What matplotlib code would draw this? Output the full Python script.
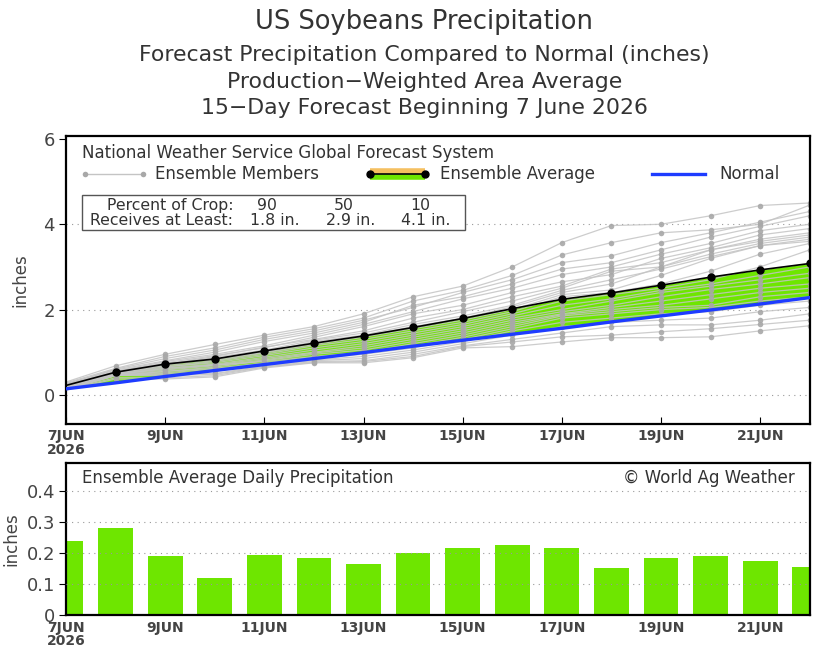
import matplotlib
matplotlib.use("Agg")
import matplotlib.pyplot as plt
from matplotlib.lines import Line2D
from matplotlib.patches import Rectangle
import numpy as np

# ---------------- data ----------------
days = list(range(16))  # 0 = 7 Jun 2026 ... 15 = 22 Jun 2026
tick_days = [0, 2, 4, 6, 8, 10, 12, 14]
tick_labels = ["7JUN\n2026", "9JUN", "11JUN", "13JUN", "15JUN", "17JUN", "19JUN", "21JUN"]

ens_avg = [0.22, 0.53, 0.72, 0.84, 1.03, 1.21, 1.38, 1.58, 1.79, 2.02, 2.24, 2.39, 2.57, 2.76, 2.93, 3.08]
normal = [0.14, 0.28, 0.43, 0.57, 0.71, 0.85, 0.99, 1.14, 1.28, 1.42, 1.56, 1.71, 1.85, 1.99, 2.13, 2.28]
daily = [0.24, 0.28, 0.19, 0.12, 0.195, 0.185, 0.165, 0.20, 0.215, 0.225, 0.215, 0.15, 0.185, 0.19, 0.175, 0.155]

m01 = [0.30, 0.68, 0.95, 1.18, 1.40, 1.60, 1.90, 2.30, 2.55, 3.00, 3.57, 3.97, 4.00, 4.20, 4.44, 4.50]
m02 = [0.28, 0.62, 0.90, 1.10, 1.35, 1.55, 1.80, 2.20, 2.45, 2.80, 3.28, 3.57, 3.80, 3.87, 4.00, 4.45]
m03 = [0.25, 0.60, 0.85, 1.05, 1.30, 1.50, 1.75, 2.05, 2.40, 2.70, 3.10, 3.26, 3.57, 3.80, 4.05, 4.30]
m04 = [0.26, 0.58, 0.80, 1.00, 1.25, 1.45, 1.70, 2.10, 2.30, 2.60, 2.95, 3.10, 3.40, 3.70, 3.95, 4.20]
m05 = [0.24, 0.55, 0.78, 0.95, 1.15, 1.40, 1.65, 1.95, 2.25, 2.50, 2.82, 3.00, 3.30, 3.55, 3.85, 4.00]
m06 = [0.22, 0.55, 0.75, 0.92, 1.10, 1.35, 1.60, 1.90, 2.10, 2.40, 2.65, 2.82, 3.20, 3.45, 3.75, 3.90]
m07 = [0.23, 0.52, 0.72, 0.90, 1.12, 1.30, 1.50, 1.80, 2.00, 2.30, 2.55, 2.95, 3.10, 3.40, 3.65, 3.80]
m08 = [0.20, 0.52, 0.70, 0.88, 1.05, 1.28, 1.45, 1.70, 1.95, 2.20, 2.50, 2.90, 3.00, 3.30, 3.55, 3.70]
m09 = [0.21, 0.50, 0.70, 0.85, 1.00, 1.25, 1.40, 1.65, 1.85, 2.10, 2.45, 2.70, 2.95, 3.24, 3.50, 3.60]
m10 = [0.22, 0.53, 0.73, 0.82, 1.00, 1.20, 1.38, 1.60, 1.80, 2.06, 2.40, 2.60, 3.00, 3.40, 3.60, 3.75]
m11 = [0.18, 0.50, 0.68, 0.80, 0.98, 1.18, 1.35, 1.55, 1.75, 2.00, 2.35, 2.46, 2.80, 3.20, 3.50, 3.65]
m12 = [0.20, 0.48, 0.65, 0.78, 0.95, 1.15, 1.30, 1.50, 1.70, 1.95, 2.30, 2.40, 2.60, 2.90, 3.30, 3.55]
m13 = [0.19, 0.50, 0.66, 0.75, 0.92, 1.10, 1.25, 1.45, 1.65, 1.90, 2.20, 2.35, 2.50, 2.70, 3.00, 3.40]
m14 = [0.17, 0.47, 0.63, 0.72, 0.88, 1.05, 1.20, 1.40, 1.60, 1.85, 2.10, 2.25, 2.45, 2.60, 2.80, 3.00]
m15 = [0.18, 0.48, 0.60, 0.70, 0.85, 1.00, 1.15, 1.35, 1.55, 1.80, 2.00, 2.20, 2.40, 2.55, 2.70, 2.85]
m16 = [0.16, 0.46, 0.58, 0.68, 0.82, 0.98, 1.10, 1.30, 1.50, 1.75, 1.95, 2.10, 2.30, 2.47, 2.60, 2.75]
m17 = [0.15, 0.45, 0.55, 0.65, 0.80, 0.95, 1.05, 1.25, 1.45, 1.70, 1.90, 2.05, 2.20, 2.35, 2.50, 2.60]
m18 = [0.17, 0.47, 0.62, 0.70, 0.78, 0.90, 1.00, 1.20, 1.40, 1.65, 1.88, 2.00, 2.10, 2.25, 2.40, 2.50]
m19 = [0.14, 0.45, 0.55, 0.62, 0.75, 0.88, 0.98, 1.15, 1.35, 1.60, 1.85, 1.95, 2.05, 2.10, 2.30, 2.40]
m20 = [0.15, 0.46, 0.52, 0.60, 0.72, 0.85, 0.95, 1.10, 1.30, 1.55, 1.80, 1.90, 2.00, 2.05, 2.20, 2.30]
m21 = [0.13, 0.45, 0.50, 0.55, 0.70, 0.82, 0.90, 1.05, 1.25, 1.50, 1.70, 1.80, 1.90, 1.95, 2.10, 2.20]
m22 = [0.14, 0.46, 0.48, 0.50, 0.68, 0.80, 0.85, 1.00, 1.20, 1.40, 1.60, 1.70, 1.75, 1.80, 1.95, 2.05]
m23 = [0.12, 0.45, 0.45, 0.48, 0.66, 0.78, 0.80, 0.95, 1.15, 1.30, 1.45, 1.60, 1.64, 1.64, 1.75, 1.90]
m24 = [0.12, 0.40, 0.40, 0.45, 0.65, 0.76, 0.78, 0.90, 1.13, 1.24, 1.36, 1.40, 1.48, 1.55, 1.65, 1.75]
m25 = [0.11, 0.37, 0.37, 0.42, 0.63, 0.75, 0.75, 0.87, 1.10, 1.13, 1.24, 1.34, 1.34, 1.36, 1.50, 1.62]
members = [m01, m02, m03, m04, m05, m06, m07, m08, m09, m10, m11, m12, m13,
           m14, m15, m16, m17, m18, m19, m20, m21, m22, m23, m24, m25]

crop_percent = ["90", "50", "10"]
crop_amount = ["1.8 in.", "2.9 in.", "4.1 in."]

# ---------------- style ----------------
GREEN = "#6ee600"
BLUE = "#1e3cff"
GRAY_L = "#c4c4c4"
GRAY_M = "#a8a8a8"
TXT = "#333333"
plt.rcParams["font.family"] = ["DejaVu Sans"]

fig = plt.figure(figsize=(8.4, 6.54), dpi=100)

# titles
fig.text(0.505, 0.966, "US Soybeans Precipitation", ha="center", va="center", fontsize=18.5, color=TXT)
fig.text(0.505, 0.916, "Forecast Precipitation Compared to Normal (inches)", ha="center", va="center", fontsize=15.8, color=TXT)
fig.text(0.505, 0.875, "Production\u2212Weighted Area Average", ha="center", va="center", fontsize=15.8, color=TXT)
fig.text(0.505, 0.835, "15\u2212Day Forecast Beginning 7 June 2026", ha="center", va="center", fontsize=15.8, color=TXT)

# ---------------- top panel ----------------
ax = fig.add_axes([0.0786, 0.352, 0.8854, 0.440])
x = np.array(days)
avg = np.array(ens_avg)
nrm = np.array(normal)
ax.fill_between(x, nrm, avg, where=avg >= nrm, color=GREEN, zorder=1, linewidth=0)
ax.fill_between(x, nrm, avg, where=avg < nrm, color="#f5c060", zorder=1, linewidth=0)
for m in members:
    ax.plot(x, m, color=GRAY_L, lw=0.9, zorder=2, alpha=0.85)
    ax.plot(x[1:], m[1:], ls="none", marker="o", ms=4, color=GRAY_M, mec="none", zorder=2, alpha=0.9)
ax.plot(x, nrm, color=BLUE, lw=2.4, zorder=4)
ax.plot(x, avg, color="black", lw=1.2, zorder=5)
ax.plot(x[1:], avg[1:], ls="none", marker="o", ms=5, color="black", zorder=6)

for yv in [0, 2, 4]:
    ax.axhline(yv, color="#999999", lw=0.8, ls=(0, (1, 4)), zorder=0)

ax.set_xlim(0, 15)
ax.set_ylim(-0.68, 6.07)
ax.set_yticks([0, 2, 4, 6])
ax.set_yticklabels(["0", "2", "4", "6"], fontsize=13, color="#444444")
ax.set_xticks(tick_days)
ax.set_xticklabels(tick_labels, fontsize=10, fontweight="bold", color="#444444",
                   linespacing=0.95)
ax.tick_params(axis="x", direction="in", length=5, pad=4)
ax.tick_params(axis="y", direction="out", length=5, pad=3)
for s in ax.spines.values():
    s.set_linewidth(1.6)
ax.set_ylabel("inches", fontsize=12, color="#444444", labelpad=10)

# legend block
T = ax.transAxes
FS = 12
ax.text(0.0215, 0.941, "National Weather Service Global Forecast System", transform=T,
        fontsize=FS, color=TXT, va="center", ha="left", zorder=10)
ax.add_line(Line2D([0.0255, 0.1035], [0.868, 0.868], transform=T, color=GRAY_L, lw=1,
                   marker="o", ms=4, mfc=GRAY_M, mec="none", zorder=10))
ax.text(0.12, 0.868, "Ensemble Members", transform=T, fontsize=FS, color=TXT, va="center", zorder=10)
ax.add_line(Line2D([0.409, 0.483], [0.879, 0.879], transform=T, color="#f5c060", lw=4, solid_capstyle="butt", zorder=10))
ax.add_line(Line2D([0.409, 0.483], [0.857, 0.857], transform=T, color=GREEN, lw=4, solid_capstyle="butt", zorder=10))
ax.add_line(Line2D([0.409, 0.483], [0.868, 0.868], transform=T, color="black", lw=1.2,
                   marker="o", ms=5, mfc="black", mec="black", zorder=11))
ax.text(0.503, 0.868, "Ensemble Average", transform=T, fontsize=FS, color=TXT, va="center", zorder=10)
ax.add_line(Line2D([0.788, 0.859], [0.868, 0.868], transform=T, color=BLUE, lw=2.4, zorder=10))
ax.text(0.879, 0.868, "Normal", transform=T, fontsize=FS, color=TXT, va="center", zorder=10)

ax.add_patch(Rectangle((0.0215, 0.674), 0.5145, 0.121, transform=T, facecolor="white",
                       edgecolor="#555555", lw=1.0, zorder=9))
BS = 11.3
ax.text(0.225, 0.76, "Percent of Crop:", transform=T, fontsize=BS, color=TXT, ha="right", va="center", zorder=10)
ax.text(0.225, 0.708, "Receives at Least:", transform=T, fontsize=BS, color=TXT, ha="right", va="center", zorder=10)
pc_x = [0.270, 0.374, 0.476]
am_x = [0.281, 0.383, 0.484]
for xp, p in zip(pc_x, crop_percent):
    ax.text(xp, 0.76, p, transform=T, fontsize=BS, color=TXT, ha="center", va="center", zorder=10)
for xp, a in zip(am_x, crop_amount):
    ax.text(xp, 0.708, a, transform=T, fontsize=BS, color=TXT, ha="center", va="center", zorder=10)

# ---------------- bottom panel ----------------
bx = fig.add_axes([0.0786, 0.0596, 0.8854, 0.2324])
bx.bar(x, daily, width=0.7, color=GREEN, zorder=2)
for yv in [0.1, 0.2, 0.3, 0.4]:
    bx.axhline(yv, color="#999999", lw=0.8, ls=(0, (1, 4)), zorder=3)
bx.set_xlim(0, 15)
bx.set_ylim(0, 0.49)
bx.set_yticks([0, 0.1, 0.2, 0.3, 0.4])
bx.set_yticklabels(["0", "0.1", "0.2", "0.3", "0.4"], fontsize=13, color="#444444")
bx.set_xticks(tick_days)
bx.set_xticklabels(tick_labels, fontsize=10, fontweight="bold", color="#444444", linespacing=0.95)
bx.tick_params(axis="x", direction="in", length=5, pad=4)
bx.tick_params(axis="y", direction="out", length=5, pad=3)
for s in bx.spines.values():
    s.set_linewidth(1.6)
bx.set_ylabel("inches", fontsize=12, color="#444444", labelpad=4)
bx.text(0.0215, 0.90, "Ensemble Average Daily Precipitation", transform=bx.transAxes,
        fontsize=FS, color=TXT, va="center", ha="left")
bx.text(0.98, 0.90, "\u00a9 World Ag Weather", transform=bx.transAxes,
        fontsize=FS, color=TXT, va="center", ha="right")

fig.savefig("out.png", dpi=100)
